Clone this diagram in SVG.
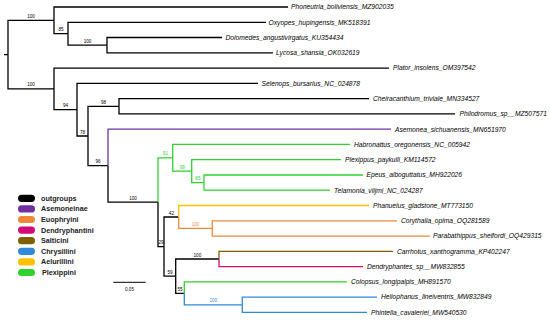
<svg xmlns="http://www.w3.org/2000/svg" width="550" height="320" viewBox="0 0 550 320">
<style>
.b{fill:none;stroke:#000;stroke-width:1.3}
.pu{stroke:#7030A0}.gr{stroke:#2ED12E}.ye{stroke:#FFC000}.or{stroke:#F0883A}.br{stroke:#7F6000}.mg{stroke:#D10A7A}.bl{stroke:#2F8AD8}
.lf{font-family:"Liberation Sans",Arial,sans-serif;font-style:italic;font-size:6.7px;fill:#000}
.s{font-family:"Liberation Sans",Arial,sans-serif;font-size:4.6px;fill:#000;text-anchor:middle}
.sg{fill:#2ED12E}.so{fill:#F0883A}.sb{fill:#2F8AD8}
.lg{font-family:"Liberation Sans",Arial,sans-serif;font-size:7.2px;font-weight:bold;fill:#222}
</style>
<rect width="550" height="320" fill="#fff"/>
<g id="connectors">
<path class="b" d="M4 54.6H8"/>
<path class="b" d="M8 54.6V20.4H54"/>
<path class="b" d="M8 54.6V88.9H54"/>
<path class="b" d="M54 20.4V7H288"/>
<path class="b" d="M54 20.4V33.7H68"/>
<path class="b" d="M68 33.7V22.3H266"/>
<path class="b" d="M68 33.7V45.2H107"/>
<path class="b" d="M107 45.2V37.5H222"/>
<path class="b" d="M107 45.2V52.8H273"/>
<path class="b" d="M54 88.9V68.1H389"/>
<path class="b" d="M54 88.9V109.7H77"/>
<path class="b" d="M77 109.7V83.4H258"/>
<path class="b" d="M77 109.7V136H88"/>
<path class="b" d="M88 136V106.3H119"/>
<path class="b" d="M119 106.3V98.6H369"/>
<path class="b" d="M119 106.3V113.9H455"/>
<path class="b" d="M88 136V165.7H108"/>
<path class="b pu" d="M108 165.7V129.2H391"/>
<path class="b" d="M108 165.7V202.2H158"/>
<path class="b gr" d="M158 202.2V157.8H172.7"/>
<path class="b gr" d="M172.7 157.8V144.4H350"/>
<path class="b gr" d="M172.7 157.8V171.2H191.7"/>
<path class="b gr" d="M191.7 171.2V159.7H341"/>
<path class="b gr" d="M191.7 171.2V182.6H204"/>
<path class="b gr" d="M204 182.6V175H363"/>
<path class="b gr" d="M204 182.6V190.2H330"/>
<path class="b" d="M158 202.2V246.6H164"/>
<path class="b" d="M164 246.6V217H178.7"/>
<path class="b ye" d="M178.7 217V205.5H369"/>
<path class="b or" d="M178.7 217V228.4H212.3"/>
<path class="b or" d="M212.3 228.4V220.8H397"/>
<path class="b or" d="M212.3 228.4V236.1H430"/>
<path class="b" d="M164 246.6V276.2H175.7"/>
<path class="b" d="M175.7 276.2V259H219"/>
<path class="b br" d="M219 259V251.3H393"/>
<path class="b mg" d="M219 259V266.6H363"/>
<path class="b" d="M175.7 276.2V293.3H184.3"/>
<path class="b gr" d="M184.3 293.3V281.9H347"/>
<path class="b bl" d="M184.3 293.3V304.8H242.3"/>
<path class="b bl" d="M242.3 304.8V297.1H377"/>
<path class="b bl" d="M242.3 304.8V312.4H367"/>
</g>
<g id="support">
<text class="s" x="31" y="17.9">100</text>
<text class="s" x="61" y="31.2">85</text>
<text class="s" x="87.5" y="42.7">100</text>
<text class="s" x="31" y="86.4">100</text>
<text class="s" x="65.5" y="107.2">94</text>
<text class="s" x="82.5" y="133.5">78</text>
<text class="s" x="103.5" y="103.8">98</text>
<text class="s" x="98" y="163.2">96</text>
<text class="s" x="133" y="199.7">100</text>
<text class="s sg" x="165.4" y="155.3">91</text>
<text class="s sg" x="182.2" y="168.7">99</text>
<text class="s sg" x="197.9" y="180.1">85</text>
<text class="s" x="161" y="244.1">29</text>
<text class="s" x="171.4" y="214.5">42</text>
<text class="s so" x="195.5" y="225.9">100</text>
<text class="s" x="170" y="273.7">59</text>
<text class="s" x="197.4" y="256.5">100</text>
<text class="s" x="180" y="290.8">55</text>
<text class="s sb" x="213.3" y="302.3">100</text>
</g>
<g id="leaf-phoneutria"><text class="lf" x="291" y="9.3">Phoneutria_boliviensis_MZ902035</text></g>
<g id="leaf-oxypes"><text class="lf" x="268.5" y="24.6">Oxyopes_hupingensis_MK518391</text></g>
<g id="leaf-dolomedes"><text class="lf" x="225.5" y="39.8">Dolomedes_angustivirgatus_KU354434</text></g>
<g id="leaf-lycosa"><text class="lf" x="276" y="55.1">Lycosa_shansia_OK032619</text></g>
<g id="leaf-plator"><text class="lf" x="393" y="70.4">Plator_insolens_OM397542</text></g>
<g id="leaf-selenops"><text class="lf" x="261.5" y="85.7">Selenops_bursarius_NC_024878</text></g>
<g id="leaf-cheiracanthium"><text class="lf" x="373" y="100.9">Cheiracanthium_triviale_MN334527</text></g>
<g id="leaf-philodromus"><text class="lf" x="459.5" y="116.2">Philodromus_sp__MZ507571</text></g>
<g id="leaf-asemonea"><text class="lf" x="395" y="131.5">Asemonea_sichuanensis_MN651970</text></g>
<g id="leaf-habronattus"><text class="lf" x="354" y="146.7">Habronattus_oregonensis_NC_005942</text></g>
<g id="leaf-plexippus"><text class="lf" x="345" y="162">Plexippus_paykulli_KM114572</text></g>
<g id="leaf-epeus"><text class="lf" x="366.5" y="177.3">Epeus_alboguttatus_MH922026</text></g>
<g id="leaf-telamonia"><text class="lf" x="334" y="192.5">Telamonia_vlijmi_NC_024287</text></g>
<g id="leaf-phanuelus"><text class="lf" x="373" y="207.8">Phanuelus_gladstone_MT773150</text></g>
<g id="leaf-corythalia"><text class="lf" x="401" y="223.1">Corythalia_opima_OQ281589</text></g>
<g id="leaf-parabathippus"><text class="lf" x="433" y="238.4">Parabathippus_shelfordi_OQ429315</text></g>
<g id="leaf-carrhotus"><text class="lf" x="397" y="253.6">Carrhotus_xanthogramma_KP402247</text></g>
<g id="leaf-dendryphantes"><text class="lf" x="367" y="268.9">Dendryphantes_sp__MW832855</text></g>
<g id="leaf-colopsus"><text class="lf" x="351" y="284.2">Colopsus_longipalpis_MH891570</text></g>
<g id="leaf-heliophanus"><text class="lf" x="381" y="299.4">Heliophanus_lineiventris_MW832849</text></g>
<g id="leaf-phintella"><text class="lf" x="371" y="314.7">Phintella_cavaleriei_MW540530</text></g>
<g id="legend">
<rect x="18" y="194.7" width="17" height="7.2" rx="3.6" fill="#000"/>
<rect x="18" y="205.3" width="17" height="7.2" rx="3.6" fill="#7030A0"/>
<rect x="18" y="215.9" width="17" height="7.2" rx="3.6" fill="#F0883A"/>
<rect x="18" y="226.5" width="17" height="7.2" rx="3.6" fill="#D10A7A"/>
<rect x="18" y="237.1" width="17" height="7.2" rx="3.6" fill="#7F6000"/>
<rect x="18" y="247.7" width="17" height="7.2" rx="3.6" fill="#2F8AD8"/>
<rect x="18" y="258.3" width="17" height="7.2" rx="3.6" fill="#FFC000"/>
<rect x="18" y="268.9" width="17" height="7.2" rx="3.6" fill="#2ED12E"/>
<text class="lg" x="41" y="200.8">outgroups</text>
<text class="lg" x="41" y="211.4">Asemoneinae</text>
<text class="lg" x="41" y="222">Euophryini</text>
<text class="lg" x="41" y="232.6">Dendryphantini</text>
<text class="lg" x="41" y="243.2">Salticini</text>
<text class="lg" x="41" y="253.8">Chrysillini</text>
<text class="lg" x="41" y="264.4">Aelurillini</text>
<text class="lg" x="42" y="275">Plexippini</text>
</g>
<g id="scale">
<path d="M113.3 282.3H145.7" stroke="#000" stroke-width="1"/>
<text class="s" x="129.5" y="291">0.05</text>
</g>
</svg>
